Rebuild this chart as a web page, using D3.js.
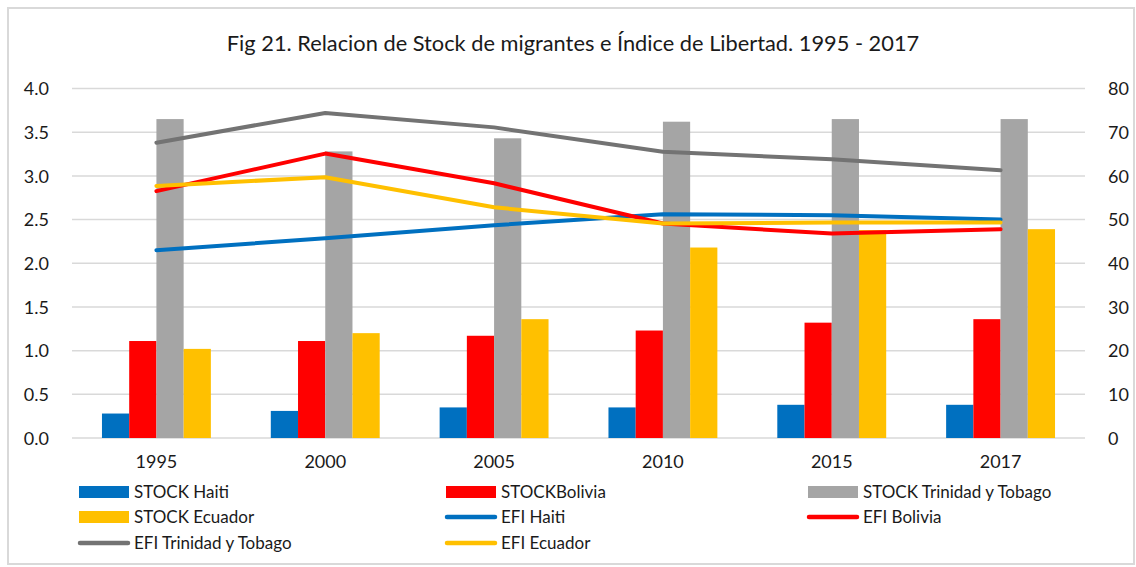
<!DOCTYPE html>
<html>
<head>
<meta charset="utf-8">
<script src="https://d3js.org/d3.v7.min.js"></script>
<style>
  body { margin: 0; background: #fff; }
  text { font-family: Lato, "Open Sans", sans-serif; fill: #1a1a1a; }
</style>
</head>
<body>
<script>
// data
const years = ["1995", "2000", "2005", "2010", "2015", "2017"];

const stockHaiti    = [0.28, 0.31, 0.35, 0.35, 0.38, 0.38];
const stockBolivia  = [1.11, 1.11, 1.17, 1.23, 1.32, 1.36];
const stockTrinidad = [3.65, 3.28, 3.43, 3.62, 3.65, 3.65];
const stockEcuador  = [1.02, 1.20, 1.36, 2.18, 2.38, 2.39];

const efiHaiti    = [43.0, 45.7, 48.7, 51.2, 51.0, 50.0];
const efiBolivia  = [56.5, 65.1, 58.3, 49.1, 46.8, 47.8];
const efiTrinidad = [67.6, 74.4, 71.1, 65.5, 63.8, 61.3];
const efiEcuador  = [57.7, 59.7, 52.8, 49.1, 49.3, 49.3];

const leftTicks  = [0, 0.5, 1, 1.5, 2, 2.5, 3, 3.5, 4];
const rightTicks = [0, 10, 20, 30, 40, 50, 60, 70, 80];

const title = "Fig 21. Relacion de Stock de migrantes e Índice de Libertad. 1995 - 2017";

const barSeries = [
  { name: "STOCK Haiti", values: stockHaiti, color: "#0070c0" },
  { name: "STOCKBolivia", values: stockBolivia, color: "#ff0000" },
  { name: "STOCK Trinidad y Tobago", values: stockTrinidad, color: "#a5a5a5" },
  { name: "STOCK Ecuador", values: stockEcuador, color: "#ffc000" }
];
const lineSeries = [
  { name: "EFI Haiti", values: efiHaiti, color: "#0070c0" },
  { name: "EFI Bolivia", values: efiBolivia, color: "#ff0000" },
  { name: "EFI Trinidad y Tobago", values: efiTrinidad, color: "#737373" },
  { name: "EFI Ecuador", values: efiEcuador, color: "#ffc000" }
];

const width = 1136, height = 567;
const plotL = 72, plotR = 1085, plotT = 88.5, plotB = 438;

const svg = d3.select("body").append("svg")
  .attr("width", width)
  .attr("height", height);

svg.append("rect")
  .attr("x", 8).attr("y", 8)
  .attr("width", width - 10).attr("height", height - 11)
  .attr("fill", "#fff")
  .attr("stroke", "#d9d9d9")
  .attr("stroke-width", 2);

svg.append("text")
  .attr("x", 573).attr("y", 51)
  .attr("text-anchor", "middle")
  .style("font-size", "21.8px")
  .text(title);

const x0 = d3.scaleBand()
  .domain(years)
  .range([plotL, plotR])
  .paddingInner(0.355)
  .paddingOuter(0.1775);

const x1 = d3.scaleBand()
  .domain(barSeries.map(d => d.name))
  .range([0, x0.bandwidth()]);

const yL = d3.scaleLinear().domain([0, 4]).range([plotB, plotT]);
const yR = d3.scaleLinear().domain([0, 80]).range([plotB, plotT]);

// gridlines
svg.append("g")
  .selectAll("line")
  .data(leftTicks)
  .join("line")
  .attr("x1", plotL).attr("x2", plotR)
  .attr("y1", d => yL(d)).attr("y2", d => yL(d))
  .attr("stroke", "#d9d9d9")
  .attr("stroke-width", 1.5);

// left axis
const axL = svg.append("g")
  .attr("transform", `translate(${plotL - 20},0)`)
  .call(d3.axisLeft(yL).tickValues(leftTicks).tickFormat(d3.format(".1f")).tickSize(0));
axL.select(".domain").remove();
axL.selectAll("text").style("font-size", "18px").attr("dy", "0.35em");

// right axis
const axR = svg.append("g")
  .attr("transform", `translate(${plotR + 20},0)`)
  .call(d3.axisRight(yR).tickValues(rightTicks).tickSize(0));
axR.select(".domain").remove();
axR.selectAll("text").style("font-size", "18px").attr("dy", "0.35em");

// bottom axis
const axB = svg.append("g")
  .attr("transform", `translate(0,${plotB + 14})`)
  .call(d3.axisBottom(x0).tickSize(0));
axB.select(".domain").remove();
axB.selectAll("text").style("font-size", "18px");

// bars
svg.append("g")
  .selectAll("g")
  .data(barSeries)
  .join("g")
  .attr("fill", d => d.color)
  .selectAll("rect")
  .data(s => s.values.map((v, i) => ({ name: s.name, year: years[i], v })))
  .join("rect")
  .attr("x", d => x0(d.year) + x1(d.name))
  .attr("width", x1.bandwidth())
  .attr("y", d => yL(d.v))
  .attr("height", d => yL(0) - yL(d.v));

// lines on the right axis
const line = d3.line()
  .x((d, i) => x0(years[i]) + x0.bandwidth() / 2)
  .y(d => yR(d));

svg.append("g")
  .selectAll("path")
  .data(lineSeries)
  .join("path")
  .attr("d", d => line(d.values))
  .attr("fill", "none")
  .attr("stroke", d => d.color)
  .attr("stroke-width", 4)
  .attr("stroke-linecap", "round")
  .attr("stroke-linejoin", "round");

// legend
const legendItems = [
  { s: barSeries[0], type: "bar" }, { s: barSeries[1], type: "bar" }, { s: barSeries[2], type: "bar" },
  { s: barSeries[3], type: "bar" }, { s: lineSeries[0], type: "line" }, { s: lineSeries[1], type: "line" },
  { s: lineSeries[2], type: "line" }, { s: lineSeries[3], type: "line" }
];
const colX = [79, 446, 808];
const rowY = [492, 517, 543];

const lg = svg.append("g")
  .selectAll("g")
  .data(legendItems)
  .join("g")
  .attr("transform", (d, i) => `translate(${colX[i % 3]},${rowY[Math.floor(i / 3)]})`);

lg.filter(d => d.type === "bar")
  .append("rect")
  .attr("x", 0).attr("y", -6)
  .attr("width", 50).attr("height", 12)
  .attr("fill", d => d.s.color);

lg.filter(d => d.type === "line")
  .append("line")
  .attr("x1", 1).attr("x2", 49)
  .attr("stroke", d => d.s.color)
  .attr("stroke-width", 4.5)
  .attr("stroke-linecap", "round");

lg.append("text")
  .attr("x", 55)
  .attr("dy", "0.35em")
  .style("font-size", "17px")
  .text(d => d.s.name);
</script>
</body>
</html>
